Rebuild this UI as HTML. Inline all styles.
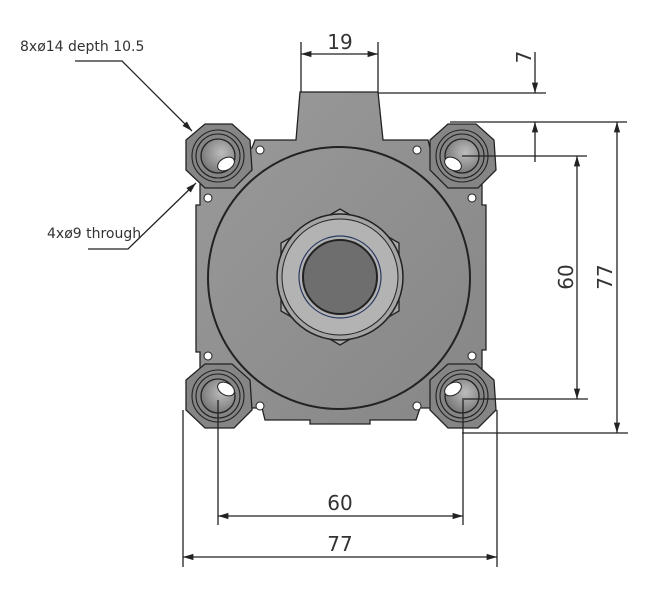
<!DOCTYPE html>
<html><head><meta charset="utf-8"><style>
html,body{margin:0;padding:0;background:#fff;}
svg{display:block;}
text{font-family:"DejaVu Sans","Liberation Sans",sans-serif;fill:#333;}
</style></head><body>
<svg width="665" height="607" viewBox="0 0 665 607" xmlns="http://www.w3.org/2000/svg">
<defs>
<linearGradient id="g" x1="0" y1="0" x2="1" y2="1">
<stop offset="0" stop-color="#9a9a9a"/><stop offset="1" stop-color="#868686"/></linearGradient>
<radialGradient id="h" cx="0.6" cy="0.4" r="0.7"><stop offset="0" stop-color="#bdbdbd"/><stop offset="1" stop-color="#6f6f6f"/></radialGradient>
<marker id="a" viewBox="0 0 10 10" refX="10" refY="5" markerWidth="8" markerHeight="8" orient="auto-start-reverse"><path d="M0,2 L10,5 L0,8 z" fill="#222"/></marker>
</defs>
<g stroke="#222" stroke-width="1.3">
<path d="M300,92 L378,92 L383,140 L428,140 L430,148 L455,148 L482,172 L482,205 L486,205 L486,350 L482,350 L482,382 L455,408 L420,408 L416,420 L370,420 L370,424 L310,424 L310,420 L265,420 L262,408 L225,408 L200,382 L200,352 L196,352 L196,205 L200,205 L200,172 L225,148 L252,148 L255,140 L296,140 Z" fill="url(#g)"/>
<g fill="#858585">
<polygon points="205,124 232,124 250,140 252,170 234,188 205,188 186,170 186,140"/>
<polygon points="448,124 476,124 494,140 496,170 478,188 448,188 430,170 430,140"/>
<polygon points="205,364 232,364 250,380 252,410 234,428 205,428 186,410 186,380"/>
<polygon points="448,364 476,364 494,380 496,410 478,428 448,428 430,410 430,380"/>
</g>
<g fill="none" stroke-width="1.1">
<circle cx="218" cy="156" r="26"/><circle cx="462" cy="156" r="26"/>
<circle cx="218" cy="396" r="26"/><circle cx="462" cy="396" r="26"/>
<circle cx="218" cy="156" r="22"/><circle cx="462" cy="156" r="22"/>
<circle cx="218" cy="396" r="22"/><circle cx="462" cy="396" r="22"/>
</g>
<g fill="url(#h)">
<circle cx="218" cy="156" r="17"/><circle cx="462" cy="156" r="17"/>
<circle cx="218" cy="396" r="17"/><circle cx="462" cy="396" r="17"/>
</g>
</g>
<g fill="#fff" stroke="#222" stroke-width="1">
<ellipse cx="226" cy="164" rx="9" ry="6" transform="rotate(-30 226 164)"/>
<ellipse cx="453" cy="164" rx="9" ry="6" transform="rotate(30 453 164)"/>
<ellipse cx="226" cy="389" rx="9" ry="6" transform="rotate(30 226 389)"/>
<ellipse cx="453" cy="389" rx="9" ry="6" transform="rotate(-30 453 389)"/>
</g>
<g fill="#fff" stroke="#222" stroke-width="1">
<circle cx="260" cy="150" r="4"/><circle cx="417" cy="150" r="4"/>
<circle cx="208" cy="198" r="4"/><circle cx="472" cy="198" r="4"/>
<circle cx="208" cy="356" r="4"/><circle cx="472" cy="356" r="4"/>
<circle cx="260" cy="406" r="4"/><circle cx="417" cy="406" r="4"/>
</g>
<circle cx="339" cy="278" r="131" fill="none" stroke="#222" stroke-width="2"/>
<polygon points="340,209 399,243 399,311 340,345 281,311 281,243" fill="#a8a8a8" stroke="#222" stroke-width="1.3"/>
<circle cx="340" cy="277" r="63" fill="#a4a4a4" stroke="#222" stroke-width="1.5"/>
<circle cx="340" cy="277" r="58" fill="#b3b3b3" stroke="#222" stroke-width="1"/>
<circle cx="340" cy="277" r="41" fill="#b3b3b3" stroke="#2a3a60" stroke-width="1.2"/>
<circle cx="340" cy="277" r="37" fill="#6e6e6e" stroke="#222" stroke-width="2"/>
<g stroke="#222" stroke-width="1.3" fill="none">
<line x1="301" y1="42" x2="301" y2="92"/><line x1="378" y1="42" x2="378" y2="92"/>
<line x1="301" y1="54" x2="378" y2="54" marker-start="url(#a)" marker-end="url(#a)"/>
<line x1="378" y1="93" x2="546" y2="93"/>
<line x1="450" y1="122" x2="627" y2="122"/>
<line x1="462" y1="156" x2="587" y2="156"/>
<line x1="462" y1="399" x2="588" y2="399"/>
<line x1="462" y1="433" x2="628" y2="433"/>
<line x1="535" y1="52" x2="535" y2="93" marker-end="url(#a)"/>
<line x1="535" y1="162" x2="535" y2="122" marker-end="url(#a)"/>
<line x1="577" y1="156" x2="577" y2="399" marker-start="url(#a)" marker-end="url(#a)"/>
<line x1="617" y1="122" x2="617" y2="433" marker-start="url(#a)" marker-end="url(#a)"/>
<line x1="218" y1="400" x2="218" y2="525"/><line x1="463" y1="400" x2="463" y2="525"/>
<line x1="183" y1="410" x2="183" y2="567"/><line x1="497" y1="410" x2="497" y2="567"/>
<line x1="218" y1="516" x2="463" y2="516" marker-start="url(#a)" marker-end="url(#a)"/>
<line x1="183" y1="557" x2="497" y2="557" marker-start="url(#a)" marker-end="url(#a)"/>
<polyline points="75,61 122,61 192,131" marker-end="url(#a)"/>
<polyline points="88,249 128,249 196,183" marker-end="url(#a)"/>
</g>
<g font-size="20">
<text x="340" y="49" text-anchor="middle">19</text>
<text x="340" y="510" text-anchor="middle">60</text>
<text x="340" y="551" text-anchor="middle">77</text>
<text transform="translate(573,277) rotate(-90)" text-anchor="middle">60</text>
<text transform="translate(612,277) rotate(-90)" text-anchor="middle">77</text>
<text transform="translate(531,57) rotate(-90)" text-anchor="middle">7</text>
</g>
<text x="20" y="51" font-size="14">8xø14 depth 10.5</text>
<text x="47" y="238" font-size="14">4xø9 through</text>
</svg>
</body></html>
